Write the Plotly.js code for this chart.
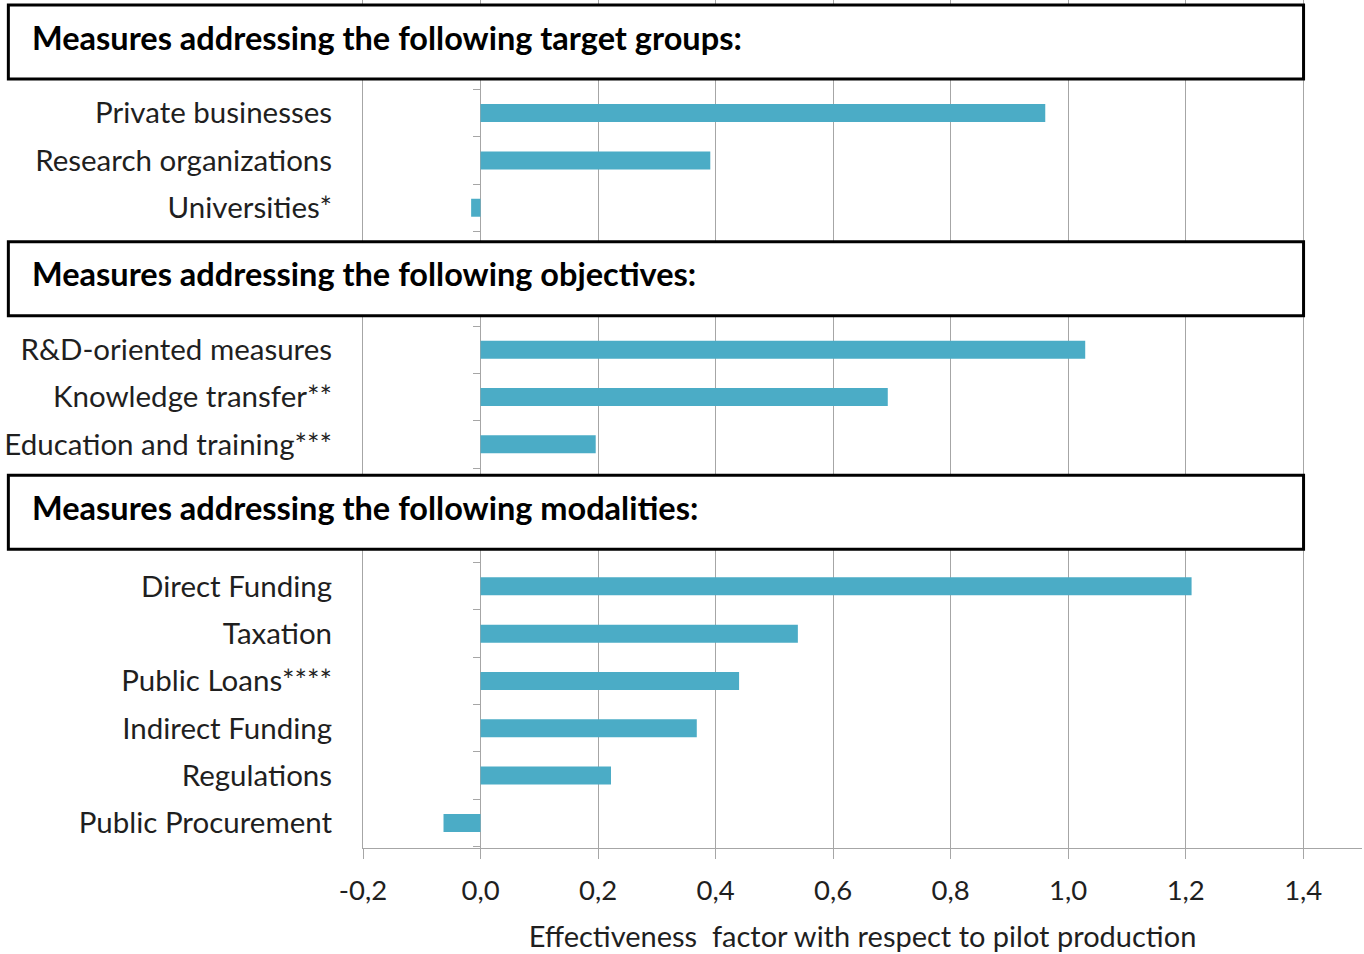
<!DOCTYPE html>
<html>
<head>
<meta charset="utf-8">
<script src="https://cdn.plot.ly/plotly-3.0.1.min.js"></script>
<style>html,body{margin:0;padding:0;background:#fff;}#chart{width:1364px;height:954px;}</style>
</head>
<body>
<div id="chart"></div>
<script>
// ---- data ----
const headers = [
  'Measures addressing the following target groups:',
  'Measures addressing the following objectives:',
  'Measures addressing the following modalities:'
];
const targetLabels = ['Private businesses', 'Research organizations', 'Universities*'];
const targetValues = [0.961, 0.391, -0.016];
const objectiveLabels = ['R&D-oriented measures', 'Knowledge transfer**', 'Education and training***'];
const objectiveValues = [1.029, 0.693, 0.196];
const modalityLabels = ['Direct Funding', 'Taxation', 'Public Loans****', 'Indirect Funding', 'Regulations', 'Public Procurement'];
const modalityValues = [1.210, 0.540, 0.440, 0.368, 0.222, -0.063];
const xTickValues = [-0.2, 0.0, 0.2, 0.4, 0.6, 0.8, 1.0, 1.2, 1.4];
const xTitle = 'Effectiveness&nbsp; factor with respect to pilot production';

// ---- layout helpers ----
const groups = [
  {labels: targetLabels, values: targetValues},
  {labels: objectiveLabels, values: objectiveValues},
  {labels: modalityLabels, values: modalityValues}
];
const HEADER_SLOTS = 2;
let pos = -HEADER_SLOTS;
const ys = [], xs = [], texts = [], headerCenters = [];
groups.forEach(g => {
  headerCenters.push(pos + (HEADER_SLOTS - 1) / 2);
  pos += HEADER_SLOTS;
  g.labels.forEach((lab, i) => { ys.push(pos); xs.push(g.values[i]); texts.push(lab); pos += 1; });
});
const yTop = -2.39, yBottom = (pos - 1) + 0.53;
const yRange = [yBottom, yTop];
const toPaperY = v => (yBottom - v) / (yBottom - yTop);
const boxHalf = 37 / 848; // paper units
const xTickText = xTickValues.map(v => v.toFixed(1).replace('.', ','));

const FONT = 'Lato, "Open Sans", sans-serif';
const GRID = '#a6a6a6';
const TXT = '#1f1f1f';

const shapes = [], annotations = [];
headerCenters.forEach((c, i) => {
  const yc = toPaperY(c) + (i === 2 ? 3 / 848 : 0);
  shapes.push({type: 'rect', xref: 'paper', yref: 'paper', x0: -0.355, x1: 0.9415,
    y0: yc - boxHalf, y1: yc + boxHalf, fillcolor: '#ffffff', line: {color: '#000', width: 3}, layer: 'above'});
  annotations.push({xref: 'paper', yref: 'paper', x: -0.333, y: yc + 5 / 848, xanchor: 'left', yanchor: 'middle',
    text: '<b>' + headers[i] + '</b>', showarrow: false, font: {family: FONT, size: 32.5, color: '#000'}});
});

const data = [
  {type: 'bar', orientation: 'h', x: xs, y: ys, width: 0.38,
   marker: {color: '#4bacc6'}, hoverinfo: 'skip', showlegend: false},
  {type: 'scatter', x: [], y: [], yaxis: 'y2', hoverinfo: 'skip', showlegend: false}
];

const layout = {
  width: 1364, height: 954,
  margin: {l: 363, r: 2, t: 0, b: 106},
  paper_bgcolor: '#fff', plot_bgcolor: '#fff',
  font: {family: FONT, size: 28, color: TXT},
  xaxis: {
    range: [-0.2, 1.5], tickmode: 'array', tickvals: xTickValues, ticktext: xTickText,
    showgrid: true, gridcolor: GRID, gridwidth: 1,
    zeroline: true, zerolinecolor: GRID, zerolinewidth: 1,
    showline: true, linecolor: GRID, linewidth: 1,
    ticks: 'outside', ticklen: 10, tickcolor: GRID,
    tickfont: {family: FONT, size: 27.5, color: TXT},
    ticklabelstandoff: 8,
    title: {text: xTitle, font: {family: FONT, size: 29, color: TXT}, standoff: 21}
  },
  yaxis: {
    range: yRange, tickmode: 'array', tickvals: ys, ticktext: texts,
    showgrid: false, zeroline: false, showline: true, linecolor: GRID, linewidth: 1,
    ticks: '', ticklabelstandoff: 24,
    tickfont: {family: FONT, size: 29.5, color: TXT}
  },
  yaxis2: {
    overlaying: 'y', anchor: 'free', position: 0.2 / 1.7, side: 'left',
    range: yRange, tickmode: 'linear', tick0: 0.5, dtick: 1,
    ticks: 'outside', ticklen: 8, tickcolor: GRID, tickwidth: 1,
    showticklabels: false, showgrid: false, zeroline: false, showline: false
  },
  shapes: shapes,
  annotations: annotations
};

Plotly.newPlot('chart', data, layout, {displayModeBar: false, staticPlot: true});
</script>
</body>
</html>
